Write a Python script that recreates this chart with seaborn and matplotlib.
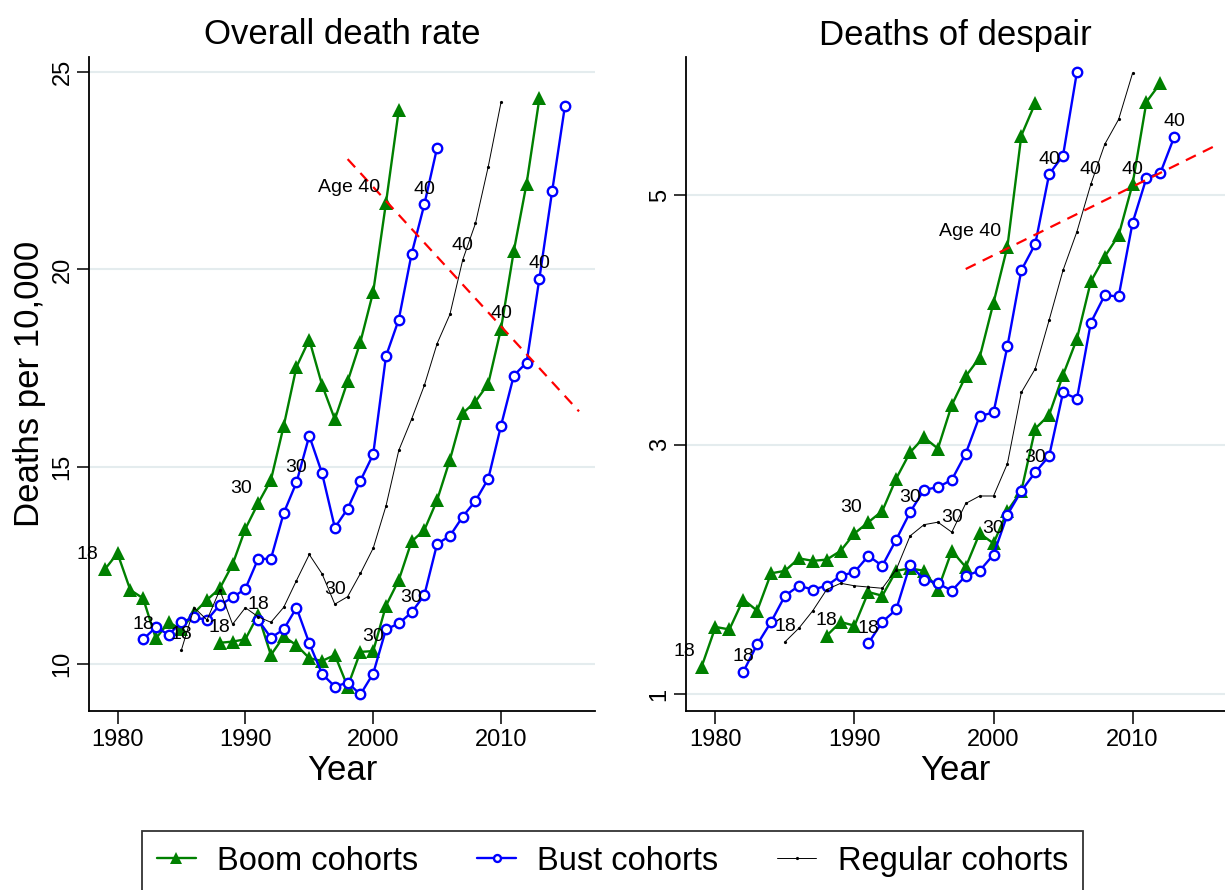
import matplotlib
matplotlib.use("Agg")
import matplotlib.pyplot as plt
from matplotlib.lines import Line2D
import pandas as pd
import seaborn as sns

# cohorts: each followed from age 18 (start year) onwards
cohort_ids = ["boom1", "bust1", "regular1", "boom2", "bust2"]
cohort_groups = ["Boom cohorts", "Bust cohorts", "Regular cohorts", "Boom cohorts", "Bust cohorts"]
cohort_start = [1979, 1982, 1985, 1988, 1991]
label_ages = [18, 30, 40]

# Overall death rate, deaths per 10,000
overall_boom1 = [12.39, 12.80, 11.87, 11.66, 10.64, 11.05, 10.87, 11.29, 11.62, 11.91, 12.52, 13.42,
                 14.07, 14.66, 16.03, 17.53, 18.22, 17.07, 16.20, 17.16, 18.16, 19.43, 21.69, 24.04]
overall_bust1 = [10.62, 10.92, 10.74, 11.05, 11.18, 11.11, 11.49, 11.68, 11.90, 12.66, 12.66, 13.82,
                 14.60, 15.78, 14.83, 13.45, 13.93, 14.64, 15.31, 17.80, 18.73, 20.39, 21.65, 23.09]
overall_regular1 = [10.35, 11.42, 11.11, 11.87, 11.00, 11.42, 11.19, 11.05, 11.43, 12.11, 12.77, 12.28,
                    11.51, 11.70, 12.29, 12.93, 14.00, 15.41, 16.20, 17.06, 18.12, 18.86, 20.24, 21.17,
                    22.61, 24.24]
overall_boom2 = [10.53, 10.56, 10.62, 11.24, 10.22, 10.69, 10.47, 10.14, 10.07, 10.22, 9.42, 10.30,
                 10.32, 11.47, 12.12, 13.10, 13.39, 14.15, 15.17, 16.35, 16.65, 17.10, 18.50, 20.47,
                 22.18, 24.34]
overall_bust2 = [11.11, 10.66, 10.87, 11.42, 10.52, 9.74, 9.42, 9.52, 9.22, 9.75, 10.87, 11.02,
                 11.30, 11.74, 13.04, 13.24, 13.73, 14.13, 14.69, 16.04, 17.31, 17.64, 19.77, 21.99,
                 24.15]

# Deaths of despair
despair_boom1 = [1.22, 1.54, 1.52, 1.76, 1.67, 1.97, 1.99, 2.09, 2.07, 2.08, 2.15, 2.29, 2.38,
                 2.47, 2.73, 2.94, 3.06, 2.97, 3.32, 3.55, 3.70, 4.14, 4.59, 5.48, 5.74]
despair_bust1 = [1.18, 1.40, 1.58, 1.79, 1.87, 1.84, 1.87, 1.95, 1.98, 2.11, 2.03, 2.24, 2.46,
                 2.64, 2.66, 2.72, 2.93, 3.23, 3.26, 3.79, 4.40, 4.61, 5.17, 5.32, 5.99]
despair_regular1 = [1.42, 1.53, 1.67, 1.84, 1.89, 1.87, 1.86, 1.85, 2.00, 2.27, 2.36, 2.38, 2.30,
                    2.53, 2.59, 2.59, 2.85, 3.42, 3.61, 4.00, 4.40, 4.71, 5.09, 5.41, 5.61, 5.98]
despair_boom2 = [1.47, 1.58, 1.55, 1.82, 1.79, 1.99, 2.01, 1.99, 1.84, 2.15, 2.02, 2.29, 2.21,
                 2.47, 2.63, 3.13, 3.24, 3.56, 3.85, 4.31, 4.51, 4.68, 5.09, 5.75, 5.90]
despair_bust2 = [1.41, 1.58, 1.68, 2.04, 1.92, 1.89, 1.83, 1.95, 1.99, 2.12, 2.44, 2.63, 2.78,
                 2.91, 3.42, 3.37, 3.98, 4.20, 4.19, 4.78, 5.14, 5.18, 5.47]

# "Age 40" reference lines
age40_overall_x = [1998.0, 2016.1]
age40_overall_y = [22.8, 16.4]
age40_despair_x = [1998.0, 2015.8]
age40_despair_y = [4.41, 5.39]

overall_ticks = [10, 15, 20, 25]
despair_ticks = [1, 3, 5]
year_ticks = [1980, 1990, 2000, 2010]


def to_frame(series):
    rows = []
    for cid, group, start, values in zip(cohort_ids, cohort_groups, cohort_start, series):
        for i, v in enumerate(values):
            rows.append({"cohort": cid, "group": group, "year": start + i, "age": 18 + i, "rate": v})
    return pd.DataFrame(rows)


overall_df = to_frame([overall_boom1, overall_bust1, overall_regular1, overall_boom2, overall_bust2])
despair_df = to_frame([despair_boom1, despair_bust1, despair_regular1, despair_boom2, despair_bust2])

GREEN = "#008000"
BLUE = "#0000ff"
styles = {
    "Boom cohorts": dict(color=GREEN, marker="^", markersize=9.5, linewidth=1.7,
                         markerfacecolor=GREEN, markeredgecolor=GREEN, markeredgewidth=0),
    "Bust cohorts": dict(color=BLUE, marker="o", markersize=6.8, linewidth=1.7,
                         markerfacecolor="white", markeredgecolor=BLUE, markeredgewidth=1.7),
    "Regular cohorts": dict(color="black", marker="o", markersize=2.3, linewidth=0.7,
                            markerfacecolor="black", markeredgecolor="black", markeredgewidth=0),
}
draw_order = ["boom1", "boom2", "bust1", "bust2", "regular1"]

sns.set_theme(style="white")
plt.rcParams["font.family"] = ["Liberation Sans", "DejaVu Sans"]
plt.rcParams["text.color"] = "black"
plt.rcParams["axes.labelcolor"] = "black"
plt.rcParams["axes.titlecolor"] = "black"
plt.rcParams["xtick.color"] = "black"
plt.rcParams["ytick.color"] = "black"

fig = plt.figure(figsize=(12.25, 8.9), dpi=100)
W, H = 1225, 890
ax_left = fig.add_axes([89 / W, 1 - 711 / H, (595 - 89) / W, (711 - 57) / H])
ax_right = fig.add_axes([686 / W, 1 - 711 / H, (1225 - 686) / W, (711 - 57) / H])


def draw_panel(ax, df, ref_x, ref_y, title, yticks, ylim, xlim):
    ax.set_axisbelow(True)
    ax.yaxis.grid(True, color="#e4ecee", linewidth=1.5)
    ax.xaxis.grid(False)
    for cid in draw_order:
        sub = df[df["cohort"] == cid]
        group = sub["group"].iloc[0]
        sns.lineplot(data=sub, x="year", y="rate", ax=ax, legend=False, zorder=3, **styles[group])
    ax.plot(ref_x, ref_y, color="red", linestyle=(0, (5, 3.5)), linewidth=1.6, zorder=4)

    # age labels 18 / 30 / 40
    for cid in cohort_ids:
        sub = df[df["cohort"] == cid]
        for age in label_ages:
            row = sub[sub["age"] == age].iloc[0]
            text = str(age)
            if cid == "boom1":
                if age == 40:
                    text = "Age 40"
                ax.annotate(text, (row["year"], row["rate"]), xytext=(-6, 15),
                            textcoords="offset pixels", ha="right", va="center",
                            fontsize=14, color="black", zorder=5)
            else:
                ax.annotate(text, (row["year"], row["rate"]), xytext=(0, 15),
                            textcoords="offset pixels", ha="center", va="center",
                            fontsize=14, color="black", zorder=5)

    ax.set_xlim(*xlim)
    ax.set_ylim(*ylim)
    ax.set_xticks(year_ticks)
    ax.set_yticks(yticks)
    ax.set_title(title, fontsize=25, pad=9)
    ax.set_xlabel("Year", fontsize=25, labelpad=2)
    ax.set_ylabel("")
    for side in ["top", "right"]:
        ax.spines[side].set_visible(False)
    for side in ["left", "bottom"]:
        ax.spines[side].set_color("black")
        ax.spines[side].set_linewidth(1.3)
    ax.tick_params(axis="both", direction="out", length=9, width=1.1, color="black",
                   labelsize=17, left=True, bottom=True, pad=4)
    ax.tick_params(axis="y", pad=2)
    for lab in ax.get_yticklabels():
        lab.set_rotation(90)
        lab.set_va("center")


draw_panel(ax_left, overall_df, age40_overall_x, age40_overall_y, "Overall death rate",
           overall_ticks, (8.80, 25.39), (1977.77, 2017.35))
draw_panel(ax_right, despair_df, age40_despair_x, age40_despair_y, "Deaths of despair",
           despair_ticks, (0.866, 6.11), (1977.88, 2016.65))
ax_left.set_ylabel("Deaths per 10,000", fontsize=25, labelpad=4)

handles = []
for group in ["Boom cohorts", "Bust cohorts", "Regular cohorts"]:
    st = dict(styles[group])
    st["markersize"] = {"Boom cohorts": 8.5, "Bust cohorts": 5, "Regular cohorts": 2.3}[group]
    handles.append(Line2D([], [], **st))
leg = fig.legend(handles, ["Boom cohorts", "Bust cohorts", "Regular cohorts"], ncol=3,
                 loc="upper left", bbox_to_anchor=(142 / W, 1 - 831 / H), frameon=True,
                 fancybox=False, edgecolor="black", fontsize=23.5, handlelength=1.2,
                 handletextpad=0.65, columnspacing=1.8, borderpad=0.45, borderaxespad=0,
                 numpoints=1)
leg.get_frame().set_linewidth(1.3)

fig.savefig("out.png", dpi=100)
